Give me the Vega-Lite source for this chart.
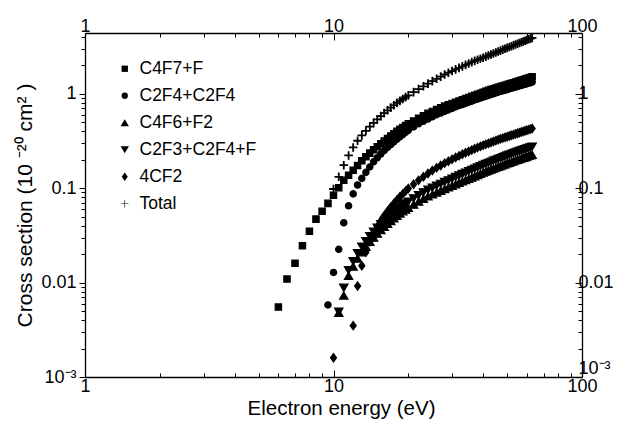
{
"$schema": "https://vega.github.io/schema/vega-lite/v6.json",
"width": 497, "height": 344,
"autosize": {"type": "none"},
"padding": {"left": 85, "top": 33, "right": 49, "bottom": 48},
"background": "white",
"config": {"font": "Liberation Sans", "view": {"stroke": null},
 "axis": {"grid": false, "domainColor": "black", "tickColor": "black", "labelColor": "black", "titleColor": "black", "labelFontSize": 18, "titleFontSize": 21, "titleFontWeight": "normal", "labelOverlap": false, "labelFlush": false, "labelBound": false, "domainWidth": 1.3, "tickWidth": 1}},
"datasets": {"pts": [
{"series":"C4F7+F","energy":6.0,"sigma":0.0055},{"series":"C4F7+F","energy":6.5,"sigma":0.0109},{"series":"C4F7+F","energy":7.0,"sigma":0.016},{"series":"C4F7+F","energy":7.5,"sigma":0.0245},{"series":"C4F7+F","energy":8.0,"sigma":0.035},{"series":"C4F7+F","energy":8.5,"sigma":0.047},{"series":"C4F7+F","energy":9.0,"sigma":0.057},{"series":"C4F7+F","energy":9.5,"sigma":0.069},{"series":"C4F7+F","energy":10.0,"sigma":0.084},{"series":"C4F7+F","energy":10.5,"sigma":0.101},{"series":"C4F7+F","energy":11.0,"sigma":0.121},{"series":"C4F7+F","energy":11.5,"sigma":0.137},{"series":"C4F7+F","energy":12.0,"sigma":0.155},{"series":"C4F7+F","energy":12.5,"sigma":0.174},{"series":"C4F7+F","energy":13.0,"sigma":0.195},{"series":"C4F7+F","energy":13.5,"sigma":0.215},{"series":"C4F7+F","energy":14.0,"sigma":0.235},{"series":"C4F7+F","energy":14.5,"sigma":0.255},{"series":"C4F7+F","energy":15.0,"sigma":0.275},{"series":"C4F7+F","energy":15.5,"sigma":0.295},{"series":"C4F7+F","energy":16.0,"sigma":0.315},{"series":"C4F7+F","energy":16.5,"sigma":0.335},{"series":"C4F7+F","energy":17.0,"sigma":0.357},{"series":"C4F7+F","energy":17.5,"sigma":0.378},{"series":"C4F7+F","energy":18.0,"sigma":0.40},{"series":"C4F7+F","energy":18.5,"sigma":0.42},{"series":"C4F7+F","energy":19.0,"sigma":0.44},{"series":"C4F7+F","energy":19.5,"sigma":0.46},{"series":"C4F7+F","energy":20,"sigma":0.48},{"series":"C4F7+F","energy":21,"sigma":0.515},{"series":"C4F7+F","energy":22,"sigma":0.55},{"series":"C4F7+F","energy":23,"sigma":0.585},{"series":"C4F7+F","energy":24,"sigma":0.62},{"series":"C4F7+F","energy":25,"sigma":0.65},{"series":"C4F7+F","energy":26,"sigma":0.68},{"series":"C4F7+F","energy":27,"sigma":0.71},{"series":"C4F7+F","energy":28,"sigma":0.74},{"series":"C4F7+F","energy":29,"sigma":0.765},{"series":"C4F7+F","energy":30,"sigma":0.79},{"series":"C4F7+F","energy":31,"sigma":0.815},{"series":"C4F7+F","energy":32,"sigma":0.84},{"series":"C4F7+F","energy":33,"sigma":0.865},{"series":"C4F7+F","energy":34,"sigma":0.89},{"series":"C4F7+F","energy":35,"sigma":0.915},{"series":"C4F7+F","energy":36,"sigma":0.94},{"series":"C4F7+F","energy":37,"sigma":0.965},{"series":"C4F7+F","energy":38,"sigma":0.99},{"series":"C4F7+F","energy":39,"sigma":1.015},{"series":"C4F7+F","energy":40,"sigma":1.04},{"series":"C4F7+F","energy":41,"sigma":1.065},{"series":"C4F7+F","energy":42,"sigma":1.09},{"series":"C4F7+F","energy":43,"sigma":1.11},{"series":"C4F7+F","energy":44,"sigma":1.13},{"series":"C4F7+F","energy":45,"sigma":1.15},{"series":"C4F7+F","energy":46,"sigma":1.17},{"series":"C4F7+F","energy":47,"sigma":1.19},{"series":"C4F7+F","energy":48,"sigma":1.21},{"series":"C4F7+F","energy":49,"sigma":1.23},{"series":"C4F7+F","energy":50,"sigma":1.25},{"series":"C4F7+F","energy":51,"sigma":1.27},{"series":"C4F7+F","energy":52,"sigma":1.29},{"series":"C4F7+F","energy":53,"sigma":1.31},{"series":"C4F7+F","energy":54,"sigma":1.33},{"series":"C4F7+F","energy":55,"sigma":1.35},{"series":"C4F7+F","energy":56,"sigma":1.37},{"series":"C4F7+F","energy":57,"sigma":1.39},{"series":"C4F7+F","energy":58,"sigma":1.41},{"series":"C4F7+F","energy":59,"sigma":1.43},{"series":"C4F7+F","energy":60,"sigma":1.45},{"series":"C4F7+F","energy":61,"sigma":1.47},{"series":"C4F7+F","energy":62,"sigma":1.49},{"series":"C4F7+F","energy":63,"sigma":1.51},
{"series":"C2F4+C2F4","energy":9.5,"sigma":0.0058},{"series":"C2F4+C2F4","energy":10.0,"sigma":0.0128},{"series":"C2F4+C2F4","energy":10.5,"sigma":0.0225},{"series":"C2F4+C2F4","energy":11.0,"sigma":0.043},{"series":"C2F4+C2F4","energy":11.5,"sigma":0.065},{"series":"C2F4+C2F4","energy":12.0,"sigma":0.087},{"series":"C2F4+C2F4","energy":12.5,"sigma":0.108},{"series":"C2F4+C2F4","energy":13.0,"sigma":0.127},{"series":"C2F4+C2F4","energy":13.5,"sigma":0.147},{"series":"C2F4+C2F4","energy":14.0,"sigma":0.168},{"series":"C2F4+C2F4","energy":14.5,"sigma":0.19},{"series":"C2F4+C2F4","energy":15.0,"sigma":0.21},{"series":"C2F4+C2F4","energy":15.5,"sigma":0.23},{"series":"C2F4+C2F4","energy":16.0,"sigma":0.25},{"series":"C2F4+C2F4","energy":16.5,"sigma":0.27},{"series":"C2F4+C2F4","energy":17.0,"sigma":0.29},{"series":"C2F4+C2F4","energy":17.5,"sigma":0.31},{"series":"C2F4+C2F4","energy":18.0,"sigma":0.33},{"series":"C2F4+C2F4","energy":18.5,"sigma":0.35},{"series":"C2F4+C2F4","energy":19.0,"sigma":0.37},{"series":"C2F4+C2F4","energy":19.5,"sigma":0.39},{"series":"C2F4+C2F4","energy":20,"sigma":0.41},{"series":"C2F4+C2F4","energy":21,"sigma":0.445},{"series":"C2F4+C2F4","energy":22,"sigma":0.48},{"series":"C2F4+C2F4","energy":23,"sigma":0.51},{"series":"C2F4+C2F4","energy":24,"sigma":0.54},{"series":"C2F4+C2F4","energy":25,"sigma":0.57},{"series":"C2F4+C2F4","energy":26,"sigma":0.60},{"series":"C2F4+C2F4","energy":27,"sigma":0.625},{"series":"C2F4+C2F4","energy":28,"sigma":0.65},{"series":"C2F4+C2F4","energy":29,"sigma":0.675},{"series":"C2F4+C2F4","energy":30,"sigma":0.70},{"series":"C2F4+C2F4","energy":31,"sigma":0.725},{"series":"C2F4+C2F4","energy":32,"sigma":0.75},{"series":"C2F4+C2F4","energy":33,"sigma":0.77},{"series":"C2F4+C2F4","energy":34,"sigma":0.79},{"series":"C2F4+C2F4","energy":35,"sigma":0.815},{"series":"C2F4+C2F4","energy":36,"sigma":0.835},{"series":"C2F4+C2F4","energy":37,"sigma":0.86},{"series":"C2F4+C2F4","energy":38,"sigma":0.88},{"series":"C2F4+C2F4","energy":39,"sigma":0.90},{"series":"C2F4+C2F4","energy":40,"sigma":0.92},{"series":"C2F4+C2F4","energy":41,"sigma":0.94},{"series":"C2F4+C2F4","energy":42,"sigma":0.96},{"series":"C2F4+C2F4","energy":43,"sigma":0.98},{"series":"C2F4+C2F4","energy":44,"sigma":1.0},{"series":"C2F4+C2F4","energy":45,"sigma":1.02},{"series":"C2F4+C2F4","energy":46,"sigma":1.04},{"series":"C2F4+C2F4","energy":47,"sigma":1.06},{"series":"C2F4+C2F4","energy":48,"sigma":1.075},{"series":"C2F4+C2F4","energy":49,"sigma":1.09},{"series":"C2F4+C2F4","energy":50,"sigma":1.11},{"series":"C2F4+C2F4","energy":51,"sigma":1.13},{"series":"C2F4+C2F4","energy":52,"sigma":1.145},{"series":"C2F4+C2F4","energy":53,"sigma":1.16},{"series":"C2F4+C2F4","energy":54,"sigma":1.18},{"series":"C2F4+C2F4","energy":55,"sigma":1.195},{"series":"C2F4+C2F4","energy":56,"sigma":1.21},{"series":"C2F4+C2F4","energy":57,"sigma":1.23},{"series":"C2F4+C2F4","energy":58,"sigma":1.245},{"series":"C2F4+C2F4","energy":59,"sigma":1.26},{"series":"C2F4+C2F4","energy":60,"sigma":1.28},{"series":"C2F4+C2F4","energy":61,"sigma":1.295},{"series":"C2F4+C2F4","energy":62,"sigma":1.31},{"series":"C2F4+C2F4","energy":63,"sigma":1.33},
{"series":"C4F6+F2","energy":10.5,"sigma":0.0048},{"series":"C4F6+F2","energy":11.0,"sigma":0.0073},{"series":"C4F6+F2","energy":11.5,"sigma":0.0118},{"series":"C4F6+F2","energy":12.0,"sigma":0.0148},{"series":"C4F6+F2","energy":12.5,"sigma":0.018},{"series":"C4F6+F2","energy":13.0,"sigma":0.021},{"series":"C4F6+F2","energy":13.5,"sigma":0.024},{"series":"C4F6+F2","energy":14.0,"sigma":0.027},{"series":"C4F6+F2","energy":14.5,"sigma":0.030},{"series":"C4F6+F2","energy":15.0,"sigma":0.033},{"series":"C4F6+F2","energy":15.5,"sigma":0.036},{"series":"C4F6+F2","energy":16.0,"sigma":0.039},{"series":"C4F6+F2","energy":16.5,"sigma":0.042},{"series":"C4F6+F2","energy":17.0,"sigma":0.045},{"series":"C4F6+F2","energy":17.5,"sigma":0.048},{"series":"C4F6+F2","energy":18.0,"sigma":0.051},{"series":"C4F6+F2","energy":18.5,"sigma":0.054},{"series":"C4F6+F2","energy":19.0,"sigma":0.057},{"series":"C4F6+F2","energy":19.5,"sigma":0.0595},{"series":"C4F6+F2","energy":20,"sigma":0.062},{"series":"C4F6+F2","energy":21,"sigma":0.067},{"series":"C4F6+F2","energy":22,"sigma":0.072},{"series":"C4F6+F2","energy":23,"sigma":0.077},{"series":"C4F6+F2","energy":24,"sigma":0.082},{"series":"C4F6+F2","energy":25,"sigma":0.086},{"series":"C4F6+F2","energy":26,"sigma":0.09},{"series":"C4F6+F2","energy":27,"sigma":0.094},{"series":"C4F6+F2","energy":28,"sigma":0.098},{"series":"C4F6+F2","energy":29,"sigma":0.102},{"series":"C4F6+F2","energy":30,"sigma":0.106},{"series":"C4F6+F2","energy":31,"sigma":0.11},{"series":"C4F6+F2","energy":32,"sigma":0.114},{"series":"C4F6+F2","energy":33,"sigma":0.118},{"series":"C4F6+F2","energy":34,"sigma":0.122},{"series":"C4F6+F2","energy":35,"sigma":0.126},{"series":"C4F6+F2","energy":36,"sigma":0.13},{"series":"C4F6+F2","energy":37,"sigma":0.134},{"series":"C4F6+F2","energy":38,"sigma":0.138},{"series":"C4F6+F2","energy":39,"sigma":0.142},{"series":"C4F6+F2","energy":40,"sigma":0.146},{"series":"C4F6+F2","energy":41,"sigma":0.15},{"series":"C4F6+F2","energy":42,"sigma":0.154},{"series":"C4F6+F2","energy":43,"sigma":0.158},{"series":"C4F6+F2","energy":44,"sigma":0.161},{"series":"C4F6+F2","energy":45,"sigma":0.165},{"series":"C4F6+F2","energy":46,"sigma":0.169},{"series":"C4F6+F2","energy":47,"sigma":0.172},{"series":"C4F6+F2","energy":48,"sigma":0.176},{"series":"C4F6+F2","energy":49,"sigma":0.179},{"series":"C4F6+F2","energy":50,"sigma":0.183},{"series":"C4F6+F2","energy":51,"sigma":0.186},{"series":"C4F6+F2","energy":52,"sigma":0.19},{"series":"C4F6+F2","energy":53,"sigma":0.193},{"series":"C4F6+F2","energy":54,"sigma":0.197},{"series":"C4F6+F2","energy":55,"sigma":0.2},{"series":"C4F6+F2","energy":56,"sigma":0.203},{"series":"C4F6+F2","energy":57,"sigma":0.207},{"series":"C4F6+F2","energy":58,"sigma":0.21},{"series":"C4F6+F2","energy":59,"sigma":0.213},{"series":"C4F6+F2","energy":60,"sigma":0.216},{"series":"C4F6+F2","energy":61,"sigma":0.22},{"series":"C4F6+F2","energy":62,"sigma":0.223},{"series":"C4F6+F2","energy":63,"sigma":0.226},
{"series":"C2F3+C2F4+F","energy":10.5,"sigma":0.0049},{"series":"C2F3+C2F4+F","energy":11.0,"sigma":0.0088},{"series":"C2F3+C2F4+F","energy":11.5,"sigma":0.0135},{"series":"C2F3+C2F4+F","energy":12.0,"sigma":0.0168},{"series":"C2F3+C2F4+F","energy":12.5,"sigma":0.0205},{"series":"C2F3+C2F4+F","energy":13.0,"sigma":0.024},{"series":"C2F3+C2F4+F","energy":13.5,"sigma":0.0275},{"series":"C2F3+C2F4+F","energy":14.0,"sigma":0.031},{"series":"C2F3+C2F4+F","energy":14.5,"sigma":0.0345},{"series":"C2F3+C2F4+F","energy":15.0,"sigma":0.038},{"series":"C2F3+C2F4+F","energy":15.5,"sigma":0.0415},{"series":"C2F3+C2F4+F","energy":16.0,"sigma":0.045},{"series":"C2F3+C2F4+F","energy":16.5,"sigma":0.0485},{"series":"C2F3+C2F4+F","energy":17.0,"sigma":0.052},{"series":"C2F3+C2F4+F","energy":17.5,"sigma":0.0555},{"series":"C2F3+C2F4+F","energy":18.0,"sigma":0.059},{"series":"C2F3+C2F4+F","energy":18.5,"sigma":0.0625},{"series":"C2F3+C2F4+F","energy":19.0,"sigma":0.066},{"series":"C2F3+C2F4+F","energy":19.5,"sigma":0.069},{"series":"C2F3+C2F4+F","energy":20,"sigma":0.072},{"series":"C2F3+C2F4+F","energy":21,"sigma":0.078},{"series":"C2F3+C2F4+F","energy":22,"sigma":0.084},{"series":"C2F3+C2F4+F","energy":23,"sigma":0.09},{"series":"C2F3+C2F4+F","energy":24,"sigma":0.096},{"series":"C2F3+C2F4+F","energy":25,"sigma":0.101},{"series":"C2F3+C2F4+F","energy":26,"sigma":0.106},{"series":"C2F3+C2F4+F","energy":27,"sigma":0.111},{"series":"C2F3+C2F4+F","energy":28,"sigma":0.116},{"series":"C2F3+C2F4+F","energy":29,"sigma":0.121},{"series":"C2F3+C2F4+F","energy":30,"sigma":0.126},{"series":"C2F3+C2F4+F","energy":31,"sigma":0.131},{"series":"C2F3+C2F4+F","energy":32,"sigma":0.136},{"series":"C2F3+C2F4+F","energy":33,"sigma":0.141},{"series":"C2F3+C2F4+F","energy":34,"sigma":0.146},{"series":"C2F3+C2F4+F","energy":35,"sigma":0.151},{"series":"C2F3+C2F4+F","energy":36,"sigma":0.156},{"series":"C2F3+C2F4+F","energy":37,"sigma":0.161},{"series":"C2F3+C2F4+F","energy":38,"sigma":0.166},{"series":"C2F3+C2F4+F","energy":39,"sigma":0.171},{"series":"C2F3+C2F4+F","energy":40,"sigma":0.176},{"series":"C2F3+C2F4+F","energy":41,"sigma":0.18},{"series":"C2F3+C2F4+F","energy":42,"sigma":0.185},{"series":"C2F3+C2F4+F","energy":43,"sigma":0.19},{"series":"C2F3+C2F4+F","energy":44,"sigma":0.195},{"series":"C2F3+C2F4+F","energy":45,"sigma":0.199},{"series":"C2F3+C2F4+F","energy":46,"sigma":0.204},{"series":"C2F3+C2F4+F","energy":47,"sigma":0.208},{"series":"C2F3+C2F4+F","energy":48,"sigma":0.213},{"series":"C2F3+C2F4+F","energy":49,"sigma":0.217},{"series":"C2F3+C2F4+F","energy":50,"sigma":0.222},{"series":"C2F3+C2F4+F","energy":51,"sigma":0.226},{"series":"C2F3+C2F4+F","energy":52,"sigma":0.23},{"series":"C2F3+C2F4+F","energy":53,"sigma":0.235},{"series":"C2F3+C2F4+F","energy":54,"sigma":0.239},{"series":"C2F3+C2F4+F","energy":55,"sigma":0.243},{"series":"C2F3+C2F4+F","energy":56,"sigma":0.247},{"series":"C2F3+C2F4+F","energy":57,"sigma":0.251},{"series":"C2F3+C2F4+F","energy":58,"sigma":0.255},{"series":"C2F3+C2F4+F","energy":59,"sigma":0.259},{"series":"C2F3+C2F4+F","energy":60,"sigma":0.263},{"series":"C2F3+C2F4+F","energy":61,"sigma":0.267},{"series":"C2F3+C2F4+F","energy":62,"sigma":0.271},{"series":"C2F3+C2F4+F","energy":63,"sigma":0.275},
{"series":"4CF2","energy":10.0,"sigma":0.0016},{"series":"4CF2","energy":12.0,"sigma":0.0035},{"series":"4CF2","energy":12.5,"sigma":0.0092},{"series":"4CF2","energy":13.0,"sigma":0.0151},{"series":"4CF2","energy":13.5,"sigma":0.021},{"series":"4CF2","energy":14.0,"sigma":0.027},{"series":"4CF2","energy":14.5,"sigma":0.033},{"series":"4CF2","energy":15.0,"sigma":0.039},{"series":"4CF2","energy":15.5,"sigma":0.045},{"series":"4CF2","energy":16.0,"sigma":0.051},{"series":"4CF2","energy":16.5,"sigma":0.057},{"series":"4CF2","energy":17.0,"sigma":0.063},{"series":"4CF2","energy":17.5,"sigma":0.069},{"series":"4CF2","energy":18.0,"sigma":0.075},{"series":"4CF2","energy":18.5,"sigma":0.081},{"series":"4CF2","energy":19.0,"sigma":0.087},{"series":"4CF2","energy":19.5,"sigma":0.093},{"series":"4CF2","energy":20,"sigma":0.099},{"series":"4CF2","energy":21,"sigma":0.11},{"series":"4CF2","energy":22,"sigma":0.121},{"series":"4CF2","energy":23,"sigma":0.132},{"series":"4CF2","energy":24,"sigma":0.143},{"series":"4CF2","energy":25,"sigma":0.154},{"series":"4CF2","energy":26,"sigma":0.164},{"series":"4CF2","energy":27,"sigma":0.174},{"series":"4CF2","energy":28,"sigma":0.184},{"series":"4CF2","energy":29,"sigma":0.193},{"series":"4CF2","energy":30,"sigma":0.202},{"series":"4CF2","energy":31,"sigma":0.211},{"series":"4CF2","energy":32,"sigma":0.22},{"series":"4CF2","energy":33,"sigma":0.229},{"series":"4CF2","energy":34,"sigma":0.237},{"series":"4CF2","energy":35,"sigma":0.245},{"series":"4CF2","energy":36,"sigma":0.253},{"series":"4CF2","energy":37,"sigma":0.261},{"series":"4CF2","energy":38,"sigma":0.269},{"series":"4CF2","energy":39,"sigma":0.277},{"series":"4CF2","energy":40,"sigma":0.284},{"series":"4CF2","energy":41,"sigma":0.291},{"series":"4CF2","energy":42,"sigma":0.298},{"series":"4CF2","energy":43,"sigma":0.305},{"series":"4CF2","energy":44,"sigma":0.312},{"series":"4CF2","energy":45,"sigma":0.319},{"series":"4CF2","energy":46,"sigma":0.326},{"series":"4CF2","energy":47,"sigma":0.333},{"series":"4CF2","energy":48,"sigma":0.339},{"series":"4CF2","energy":49,"sigma":0.345},{"series":"4CF2","energy":50,"sigma":0.351},{"series":"4CF2","energy":51,"sigma":0.357},{"series":"4CF2","energy":52,"sigma":0.363},{"series":"4CF2","energy":53,"sigma":0.369},{"series":"4CF2","energy":54,"sigma":0.375},{"series":"4CF2","energy":55,"sigma":0.381},{"series":"4CF2","energy":56,"sigma":0.387},{"series":"4CF2","energy":57,"sigma":0.393},{"series":"4CF2","energy":58,"sigma":0.399},{"series":"4CF2","energy":59,"sigma":0.405},{"series":"4CF2","energy":60,"sigma":0.411},{"series":"4CF2","energy":61,"sigma":0.417},{"series":"4CF2","energy":62,"sigma":0.422},{"series":"4CF2","energy":63,"sigma":0.428},
{"series":"Total","energy":10.0,"sigma":0.098},{"series":"Total","energy":10.5,"sigma":0.132},{"series":"Total","energy":11.0,"sigma":0.175},{"series":"Total","energy":11.5,"sigma":0.222},{"series":"Total","energy":12.0,"sigma":0.27},{"series":"Total","energy":12.5,"sigma":0.318},{"series":"Total","energy":13.0,"sigma":0.362},{"series":"Total","energy":13.5,"sigma":0.405},{"series":"Total","energy":14.0,"sigma":0.448},{"series":"Total","energy":14.5,"sigma":0.492},{"series":"Total","energy":15.0,"sigma":0.536},{"series":"Total","energy":15.5,"sigma":0.58},{"series":"Total","energy":16.0,"sigma":0.624},{"series":"Total","energy":16.5,"sigma":0.668},{"series":"Total","energy":17.0,"sigma":0.712},{"series":"Total","energy":17.5,"sigma":0.756},{"series":"Total","energy":18.0,"sigma":0.80},{"series":"Total","energy":18.5,"sigma":0.84},{"series":"Total","energy":19.0,"sigma":0.88},{"series":"Total","energy":19.5,"sigma":0.92},{"series":"Total","energy":20,"sigma":0.96},{"series":"Total","energy":21,"sigma":1.04},{"series":"Total","energy":22,"sigma":1.12},{"series":"Total","energy":23,"sigma":1.2},{"series":"Total","energy":24,"sigma":1.28},{"series":"Total","energy":25,"sigma":1.36},{"series":"Total","energy":26,"sigma":1.44},{"series":"Total","energy":27,"sigma":1.52},{"series":"Total","energy":28,"sigma":1.6},{"series":"Total","energy":29,"sigma":1.67},{"series":"Total","energy":30,"sigma":1.74},{"series":"Total","energy":31,"sigma":1.81},{"series":"Total","energy":32,"sigma":1.88},{"series":"Total","energy":33,"sigma":1.95},{"series":"Total","energy":34,"sigma":2.02},{"series":"Total","energy":35,"sigma":2.09},{"series":"Total","energy":36,"sigma":2.16},{"series":"Total","energy":37,"sigma":2.23},{"series":"Total","energy":38,"sigma":2.29},{"series":"Total","energy":39,"sigma":2.35},{"series":"Total","energy":40,"sigma":2.41},{"series":"Total","energy":41,"sigma":2.475},{"series":"Total","energy":42,"sigma":2.54},{"series":"Total","energy":43,"sigma":2.605},{"series":"Total","energy":44,"sigma":2.67},{"series":"Total","energy":45,"sigma":2.735},{"series":"Total","energy":46,"sigma":2.8},{"series":"Total","energy":47,"sigma":2.865},{"series":"Total","energy":48,"sigma":2.93},{"series":"Total","energy":49,"sigma":2.995},{"series":"Total","energy":50,"sigma":3.06},{"series":"Total","energy":51,"sigma":3.125},{"series":"Total","energy":52,"sigma":3.19},{"series":"Total","energy":53,"sigma":3.255},{"series":"Total","energy":54,"sigma":3.32},{"series":"Total","energy":55,"sigma":3.385},{"series":"Total","energy":56,"sigma":3.45},{"series":"Total","energy":57,"sigma":3.515},{"series":"Total","energy":58,"sigma":3.58},{"series":"Total","energy":59,"sigma":3.645},{"series":"Total","energy":60,"sigma":3.71},{"series":"Total","energy":61,"sigma":3.775},{"series":"Total","energy":62,"sigma":3.84},{"series":"Total","energy":63,"sigma":3.9}
]},
"data": {"name": "pts"},
"layer": [
 {"mark": {"type": "point", "filled": true, "fill": "black", "stroke": "black", "strokeWidth": 1.2, "opacity": 1},
  "encoding": {
   "x": {"field": "energy", "type": "quantitative", "scale": {"type": "log", "domain": [1, 100], "nice": false},
     "axis": {"orient": "bottom", "values": [1,2,3,4,5,6,7,8,9,10,20,30,40,50,60,70,80,90,100],
       "labelExpr": "datum.value==1?'1':datum.value==10?'10':datum.value==100?'100':''",
       "tickSize": {"condition": {"test": "indexof([1,10,100], datum.value) >= 0", "value": -7}, "value": -4},
       "labelPadding": 7, "title": "Electron energy (eV)", "titleFontSize": 20.5, "titlePadding": 0, "titleX": 256}},
   "y": {"field": "sigma", "type": "quantitative", "scale": {"type": "log", "domain": [0.001, 4.4], "nice": false},
     "axis": {"orient": "left", "values": [0.001,0.002,0.003,0.004,0.005,0.006,0.007,0.008,0.009,0.01,0.02,0.03,0.04,0.05,0.06,0.07,0.08,0.09,0.1,0.2,0.3,0.4,0.5,0.6,0.7,0.8,0.9,1,2,3,4],
       "labelExpr": "datum.value==1?'1':datum.value==0.1?'0.1':datum.value==0.01?'0.01':datum.value==0.001?'10⁻³':''",
       "tickSize": {"condition": {"test": "indexof([0.001,0.01,0.1,1], datum.value) >= 0", "value": 6}, "value": 4},
       "labelPadding": 3, "title": "Cross section (10 ⁻²⁰ cm² )", "titlePadding": 5}},
   "shape": {"field": "series", "type": "nominal",
     "scale": {"domain": ["C4F7+F","C2F4+C2F4","C4F6+F2","C2F3+C2F4+F","4CF2","Total"],
               "range": ["square","circle","triangle-up","triangle-down","M0,-1L0.72,0L0,1L-0.72,0Z","M-1,-0.08H-0.08V-1H0.08V-0.08H1V0.08H0.08V1H-0.08V0.08H-1Z"]},
     "legend": {"orient": "none", "legendX": 31, "legendY": 27, "title": null, "padding": 0,
       "labelFontSize": 17.5, "labelColor": "black", "labelOffset": 6, "rowPadding": 8,
       "symbolFillColor": "black", "symbolStrokeColor": "black", "symbolStrokeWidth": 1.2, "symbolOpacity": 1}},
   "size": {"field": "series", "type": "nominal",
     "scale": {"type": "ordinal", "domain": ["C4F7+F","C2F4+C2F4","C4F6+F2","C2F3+C2F4+F","4CF2","Total"], "range": [40, 40, 70, 70, 70, 55]},
     "legend": {"orient": "none", "legendX": 31, "legendY": 27, "title": null, "padding": 0,
       "labelFontSize": 17.5, "labelColor": "black", "labelOffset": 6, "rowPadding": 8,
       "symbolFillColor": "black", "symbolStrokeColor": "black", "symbolStrokeWidth": 1.2, "symbolOpacity": 1}}
  }},
 {"mark": {"type": "point", "opacity": 0},
  "encoding": {
   "x": {"field": "energy", "type": "quantitative", "scale": {"type": "log", "domain": [1, 100], "nice": false},
     "axis": {"orient": "top", "values": [1,2,3,4,5,6,7,8,9,10,20,30,40,50,60,70,80,90,100],
       "labelExpr": "datum.value==1?'1':datum.value==10?'10':datum.value==100?'100':''",
       "tickSize": {"condition": {"test": "indexof([1,10,100], datum.value) >= 0", "value": -7}, "value": -4},
       "labelPadding": 5, "title": null}},
   "y": {"field": "sigma", "type": "quantitative", "scale": {"type": "log", "domain": [0.001, 4.4], "nice": false},
     "axis": {"orient": "right", "values": [0.001,0.002,0.003,0.004,0.005,0.006,0.007,0.008,0.009,0.01,0.02,0.03,0.04,0.05,0.06,0.07,0.08,0.09,0.1,0.2,0.3,0.4,0.5,0.6,0.7,0.8,0.9,1,2,3,4],
       "labelExpr": "datum.value==1?'1':datum.value==0.1?'0.1':datum.value==0.01?'0.01':datum.value==0.001?'10⁻³':''",
       "labelBaseline": {"condition": {"test": "datum.value == 0.001", "value": "bottom"}, "value": "middle"},
       "tickSize": {"condition": {"test": "indexof([0.001,0.01,0.1,1], datum.value) >= 0", "value": -7}, "value": -4},
       "labelPadding": 3, "title": null}}
  }}
],
"resolve": {"axis": {"x": "independent", "y": "independent"}}
}
